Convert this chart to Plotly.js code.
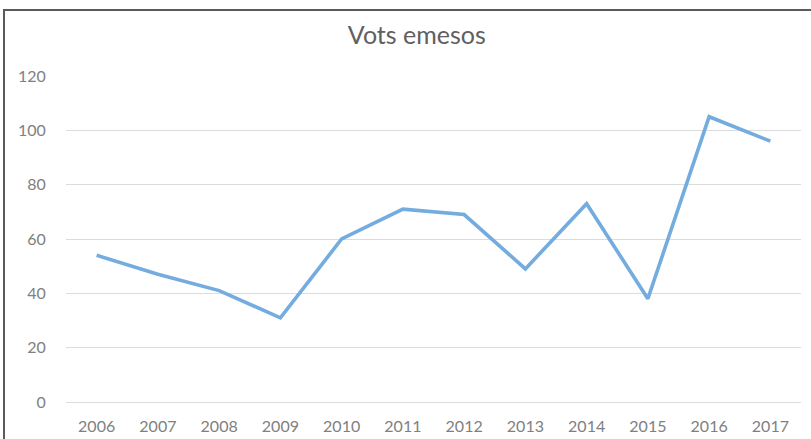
<!DOCTYPE html>
<html>
<head>
<meta charset="utf-8">
<script src="https://cdn.plot.ly/plotly-3.0.1.min.js"></script>
<style>
  html, body { margin: 0; padding: 0; background: #fff; overflow: hidden; }
  #chart { position: absolute; left: 0; top: 0; width: 811px; height: 439px; }
  #frame { position: absolute; left: 3px; top: 9px; width: 900px; height: 500px;
           border: 2px solid #5a5a5a; pointer-events: none; }
</style>
</head>
<body>
<div id="chart"></div>
<div id="frame"></div>
<script>
const years = ['2006','2007','2008','2009','2010','2011','2012','2013','2014','2015','2016','2017'];
const votes = [54, 47, 41, 31, 60, 71, 69, 49, 73, 38, 105, 96];
const yTicks = [0, 20, 40, 60, 80, 100, 120];

const trace = {
  x: years,
  y: votes,
  type: 'scatter',
  mode: 'lines',
  line: { color: '#74acdf', width: 3.6 },
  hoverinfo: 'x+y'
};

const layout = {
  width: 811,
  height: 439,
  margin: { l: 66, r: 10, t: 76, b: 37 },
  paper_bgcolor: '#ffffff',
  plot_bgcolor: '#ffffff',
  font: { family: 'Lato, "Open Sans", sans-serif', color: '#808080', size: 12 },
  title: {
    text: 'Vots emesos',
    font: { family: 'Lato, "Open Sans", sans-serif', size: 25, color: '#606060' },
    x: 0.514, xanchor: 'center', y: 0.92, yanchor: 'middle'
  },
  showlegend: false,
  xaxis: {
    type: 'category',
    range: [-0.5, 11.5],
    showgrid: false,
    showline: false,
    zeroline: false,
    ticks: 'outside',
    ticklen: 10,
    tickcolor: 'rgba(0,0,0,0)',
    tickfont: { size: 16, color: '#808080' }
  },
  yaxis: {
    range: [0, 120],
    tickvals: yTicks,
    showgrid: true,
    gridcolor: '#dcdcdc',
    gridwidth: 1,
    zeroline: true,
    zerolinecolor: '#dcdcdc',
    zerolinewidth: 1,
    showline: false,
    ticks: 'outside',
    ticklen: 16,
    tickcolor: 'rgba(0,0,0,0)',
    tickfont: { size: 16, color: '#808080' }
  }
};

Plotly.newPlot('chart', [trace], layout, { displayModeBar: false, staticPlot: true });
</script>
</body>
</html>
